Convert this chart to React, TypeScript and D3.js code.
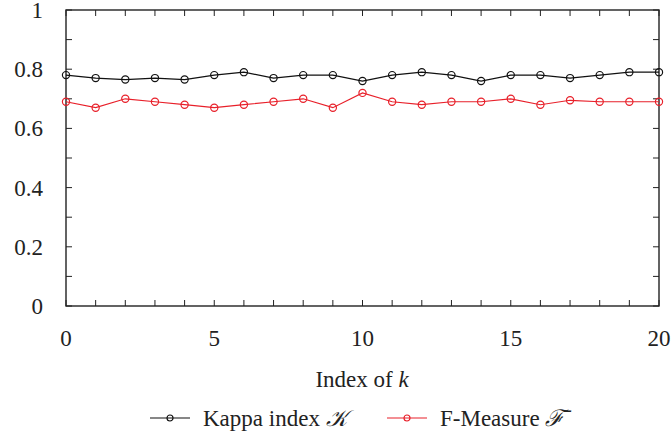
import React from 'react'
import * as d3 from 'd3'

// data
const kIndex = d3.range(0, 21)
const kappa = [0.78, 0.77, 0.765, 0.77, 0.765, 0.78, 0.79, 0.77, 0.78, 0.78, 0.76,
    0.78, 0.79, 0.78, 0.76, 0.78, 0.78, 0.77, 0.78, 0.79, 0.79]
const fMeasure = [0.69, 0.67, 0.7, 0.69, 0.68, 0.67, 0.68, 0.69, 0.7, 0.67, 0.72,
    0.69, 0.68, 0.69, 0.69, 0.7, 0.68, 0.695, 0.69, 0.69, 0.69]
const xTickLabels = [0, 5, 10, 15, 20]
const yTickLabels = [0, 0.2, 0.4, 0.6, 0.8, 1]

const W = 672
const H = 435
const margin = { left: 66, right: 13, top: 10, bottom: 129 }
const FONT = "'Liberation Serif'"
const FS = 23
const TXT = '#222'
const RED = '#e8202a'

function App() {
    const width = W - margin.left - margin.right
    const height = H - margin.top - margin.bottom
    const x = d3.scaleLinear().domain([0, 20]).range([0, width])
    const y = d3.scaleLinear().domain([0, 1]).range([height, 0])
    const line = d3.line<number>().x((d, i) => x(kIndex[i])).y(d => y(d))
    const tickLen = 6
    const xt = d3.range(0, 21)
    const yt = d3.range(0, 11).map(d => d / 10)

    const series = [
        { values: kappa, color: '#111' },
        { values: fMeasure, color: RED },
    ]
    const legend = [
        { x: 150, color: '#111', label: 'Kappa index ', sym: '𝒦' },
        { x: 387, color: RED, label: 'F-Measure ', sym: 'ℱ̄' },
    ]

    return (
        <svg width={W} height={H}
            style={{ position: 'absolute', left: 0, top: 0, background: '#fff', fontFamily: FONT }}>
            <g transform={`translate(${margin.left}, ${margin.top})`}>
                <g stroke="#222" strokeWidth={1}>
                    {xt.map(t => (
                        <g key={'x' + t}>
                            <line x1={x(t)} x2={x(t)} y1={height} y2={height - tickLen} />
                            <line x1={x(t)} x2={x(t)} y1={0} y2={tickLen} />
                        </g>
                    ))}
                    {yt.map(t => (
                        <g key={'y' + t}>
                            <line x1={0} x2={tickLen} y1={y(t)} y2={y(t)} />
                            <line x1={width} x2={width - tickLen} y1={y(t)} y2={y(t)} />
                        </g>
                    ))}
                </g>
                <rect width={width} height={height} fill="none" stroke="#222" strokeWidth={1.4} />

                {xTickLabels.map(d => (
                    <text key={'xl' + d} x={x(d)} y={height + 40} textAnchor="middle"
                        fontSize={FS} fill={TXT} style={{ fontFamily: FONT }}>{d}</text>
                ))}
                {yTickLabels.map(d => (
                    <text key={'yl' + d} x={-23} y={y(d) + 8} textAnchor="end"
                        fontSize={FS} fill={TXT} style={{ fontFamily: FONT }}>{d}</text>
                ))}

                {series.map((s, si) => (
                    <g key={'s' + si}>
                        <path d={line(s.values) || ''} fill="none" stroke={s.color} strokeWidth={1.2} />
                        {s.values.map((v, i) => (
                            <circle key={i} cx={x(kIndex[i])} cy={y(v)} r={3.6}
                                fill="none" stroke={s.color} strokeWidth={1.2} />
                        ))}
                    </g>
                ))}
            </g>

            <text x={362} y={387} textAnchor="middle" fontSize={FS} fill={TXT} style={{ fontFamily: FONT }}>
                Index of <tspan fontStyle="italic">k</tspan>
            </text>

            <g transform="translate(0, 418)">
                {legend.map(it => (
                    <g key={it.label}>
                        <line x1={it.x} x2={it.x + 40} y1={0} y2={0} stroke={it.color} strokeWidth={1.2} />
                        <circle cx={it.x + 20} cy={0} r={3} fill="none" stroke={it.color} strokeWidth={1.2} />
                        <text x={it.x + 53} y={8} fontSize={FS} fill={TXT} style={{ fontFamily: FONT }}>
                            {it.label}<tspan fontStyle="italic">{it.sym}</tspan>
                        </text>
                    </g>
                ))}
            </g>
        </svg>
    )
}

export default App
